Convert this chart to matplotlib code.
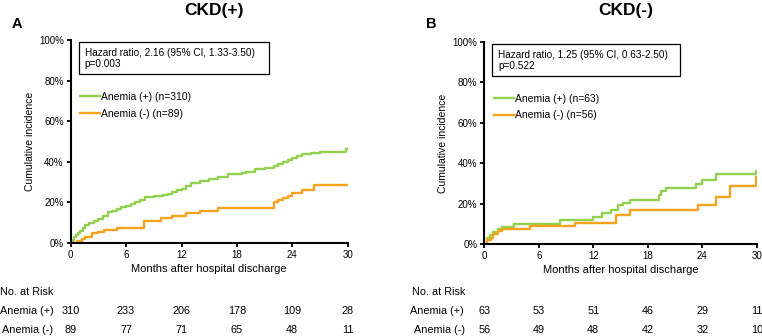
import matplotlib
matplotlib.use("Agg")
import matplotlib.pyplot as plt
import matplotlib.transforms as mtrans
from matplotlib.patches import Rectangle

plt.rcParams['font.family'] = ['Liberation Sans', 'DejaVu Sans']

# panel A, CKD(+)
a_pos_t = [0, 0.2, 0.4, 0.6, 0.8, 1.0, 1.3, 1.6, 2.0, 2.5, 3.0, 3.5, 4.0, 4.5, 5.0, 5.5, 6.0, 6.5, 7.0, 7.5,
           8.0, 9.0, 10.0, 10.5, 11.0, 11.5, 12.0, 12.5, 13.0, 14.0, 15.0, 16.0, 17.0, 18.0, 18.5, 19.0,
           20.0, 21.0, 22.0, 22.5, 23.0, 23.5, 24.0, 24.5, 25.0, 26.0, 27.0, 29.8, 30.0]
a_pos_v = [0, 1.5, 3, 4, 5, 6, 7.5, 9, 10, 11, 12, 13.5, 15.5, 16, 16.5, 17.5, 18, 19, 20, 21,
           22.5, 23, 23.5, 24, 25, 26, 26.5, 28, 29.5, 30.5, 31.5, 32.5, 34, 34, 34.5, 35,
           36.5, 37, 38, 39, 40, 41, 42, 43, 44, 44.5, 45, 46.5, 46.5]
a_neg_t = [0, 0.7, 1.2, 1.6, 2.3, 3.0, 3.6, 5.0, 7.9, 9.8, 11.0, 12.5, 14.0, 16.0, 22.0, 22.5, 23.0,
           23.5, 24.0, 25.0, 26.3, 30.0]
a_neg_v = [0, 1, 2, 3, 5, 5.5, 6.5, 7.5, 11, 12.5, 13.5, 15, 16, 17, 20, 21, 22,
           23, 24.5, 26, 28.5, 28.5]

# panel B, CKD(-)
b_pos_t = [0, 0.3, 0.6, 1.0, 1.5, 2.0, 3.3, 8.3, 12.0, 13.0, 14.0, 14.7, 15.3, 16.0, 19.2, 19.5, 20.0,
           23.3, 24.0, 25.5, 29.9, 30.0]
b_pos_v = [0, 3, 4.5, 6, 7.5, 8.5, 10, 12, 13.5, 15.5, 17, 19.5, 20.5, 22, 24.5, 26, 27.8,
           29.5, 31.5, 34.5, 36, 36]
b_neg_t = [0, 0.3, 0.7, 1.0, 1.5, 2.0, 5.0, 10.0, 14.5, 16.0, 23.5, 25.5, 27.0, 29.9, 30.0]
b_neg_v = [0, 2, 3, 5, 6.5, 7.5, 9, 10.5, 14.5, 17, 19.5, 23.5, 28.5, 33, 33]

risk_times = [0, 6, 12, 18, 24, 30]
a_risk_pos = [310, 233, 206, 178, 109, 28]
a_risk_neg = [89, 77, 71, 65, 48, 11]
b_risk_pos = [63, 53, 51, 46, 29, 11]
b_risk_neg = [56, 49, 48, 42, 32, 10]

green = '#92D050'
orange = '#F7A21E'

fig = plt.figure(figsize=(7.62, 3.36), dpi=100)
ax1 = fig.add_axes([0.0928, 0.2768, 0.3635, 0.6042])
ax2 = fig.add_axes([0.6356, 0.2738, 0.3575, 0.6012])

panels = [
    (ax1, 'CKD(+)', 'A', a_pos_t, a_pos_v, a_neg_t, a_neg_v, 310, 89,
     'Hazard ratio, 2.16 (95% CI, 1.33-3.50)', 'p=0.003', a_risk_pos, a_risk_neg),
    (ax2, 'CKD(-)', 'B', b_pos_t, b_pos_v, b_neg_t, b_neg_v, 63, 56,
     'Hazard ratio, 1.25 (95% CI, 0.63-2.50)', 'p=0.522', b_risk_pos, b_risk_neg),
]

for ax, title, letter, pt, pv, nt, nv, npos, nneg, hr, pval, rpos, rneg in panels:
    ax.step(pt, pv, where='post', color=green, lw=1.7, label='Anemia (+) (n=%d)' % npos)
    ax.step(nt, nv, where='post', color=orange, lw=1.7, label='Anemia (-) (n=%d)' % nneg)
    ax.set_xlim(0, 30)
    ax.set_ylim(0, 100)
    ax.set_xticks(risk_times)
    ax.set_yticks([0, 20, 40, 60, 80, 100])
    ax.set_yticklabels(['%d%%' % v for v in [0, 20, 40, 60, 80, 100]])
    for s in ['top', 'right']:
        ax.spines[s].set_visible(False)
    for s in ['left', 'bottom']:
        ax.spines[s].set_linewidth(1.5)
    ax.tick_params(labelsize=7, length=3, width=1.3, pad=2)
    ax.set_ylabel('Cumulative incidence', fontsize=7.5, labelpad=3)
    ax.set_xlabel('Months after hospital discharge', fontsize=8, labelpad=3)

    ax.add_patch(Rectangle((0.03, 0.83), 0.687, 0.16, transform=ax.transAxes,
                           fill=False, ec='black', lw=0.9, clip_on=False))
    ax.text(0.05, 0.936, hr, transform=ax.transAxes, fontsize=7.2, va='center')
    ax.text(0.05, 0.882, pval, transform=ax.transAxes, fontsize=7.2, va='center')
    ax.legend(loc='center left', bbox_to_anchor=(0.035, 0.678), frameon=False, fontsize=7.5,
              handlelength=1.9, handletextpad=0.1, labelspacing=0.65, borderpad=0,
              borderaxespad=0)

    bb = ax.get_position()
    fig.text(bb.x0 + bb.width / 2 + 0.0065, 0.968, title, fontsize=12.5, fontweight='bold',
             ha='center', va='center')
    fig.text(bb.x0 - 0.07, 0.93, letter, fontsize=10.5, fontweight='bold',
             ha='center', va='center')

    tr = mtrans.blended_transform_factory(ax.transData, fig.transFigure)
    for t, r1, r2 in zip(risk_times, rpos, rneg):
        ax.text(t, 0.0744, str(r1), transform=tr, fontsize=7.8, ha='center', va='center')
        ax.text(t, 0.0179, str(r2), transform=tr, fontsize=7.8, ha='center', va='center')

fig.text(0.0, 0.131, 'No. at Risk', fontsize=7.8, va='center')
fig.text(0.0, 0.0744, 'Anemia (+)', fontsize=7.8, va='center')
fig.text(0.003, 0.0179, 'Anemia (-)', fontsize=7.8, va='center')
fig.text(0.541, 0.131, 'No. at Risk', fontsize=7.8, va='center')
fig.text(0.538, 0.0744, 'Anemia (+)', fontsize=7.8, va='center')
fig.text(0.543, 0.0179, 'Anemia (-)', fontsize=7.8, va='center')

fig.savefig('out.png', dpi=100)
